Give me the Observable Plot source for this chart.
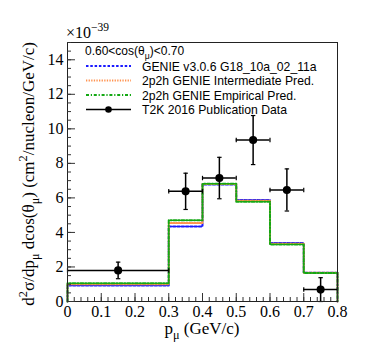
<!DOCTYPE html>
<html><head><meta charset="utf-8">
<script src="https://cdn.jsdelivr.net/npm/d3@7"></script>
<script src="https://cdn.jsdelivr.net/npm/@observablehq/plot@0.6"></script>
<style>body{margin:0;background:#fff}</style>
</head><body><div id="chart"></div>
<script>
// ---- data ----
const binEdges = [0, 0.3, 0.4, 0.5, 0.6, 0.7, 0.8];
const genie = [0.93, 4.35, 6.78, 5.88, 3.39, 1.66];
const intermediate = [1.0, 4.55, 6.8, 5.83, 3.35, 1.66];
const empirical = [1.06, 4.7, 6.82, 5.78, 3.3, 1.65];
const dataX = [0.15, 0.35, 0.45, 0.55, 0.65, 0.75];
const dataXErr = [0.15, 0.05, 0.05, 0.05, 0.05, 0.05];
const dataY = [1.8, 6.38, 7.15, 9.35, 6.46, 0.69];
const dataYErr = [0.48, 1.05, 1.2, 1.42, 1.22, 0.69];
const xTicks = [0, 0.1, 0.2, 0.3, 0.4, 0.5, 0.6, 0.7, 0.8];
const yTicks = [0, 2, 4, 6, 8, 10, 12, 14];
const seriesNames = ["GENIE v3.0.6 G18_10a_02_11a", "2p2h GENIE Intermediate Pred.", "2p2h GENIE Empirical Pred.", "T2K 2016 Publication Data"];

const xMinor = d3.range(0, 0.8001, 0.02);
const yMinor = d3.range(0, 15.001, 0.5);

function histPts(vals) {
  const pts = [{x: binEdges[0], y: 0}];
  vals.forEach((v, i) => pts.push({x: binEdges[i], y: v}));
  pts.push({x: binEdges[binEdges.length - 1], y: vals[vals.length - 1]});
  pts.push({x: binEdges[binEdges.length - 1], y: 0});
  return pts;
}
const pts = dataX.map((x, i) => ({x, xe: dataXErr[i], y: dataY[i], ye: dataYErr[i]}));

const hLine = {draw(ctx, size) { const r = Math.sqrt(size) / 2; ctx.moveTo(-r, 0); ctx.lineTo(r, 0); }};
const vLine = {draw(ctx, size) { const r = Math.sqrt(size) / 2; ctx.moveTo(0, -r); ctx.lineTo(0, r); }};

const styles = [
  {color: "#1a1aff", dash: "2.5,1.8"},
  {color: "#ff9350", dash: "1.3,1.3"},
  {color: "#13a813", dash: "3,1.8,1.2,1.8"}
];

const chart = Plot.plot({
  width: 374, height: 355,
  marginLeft: 67, marginRight: 37, marginTop: 42, marginBottom: 54,
  x: {domain: [0, 0.8]},
  y: {domain: [0, 15]},
  style: {fontFamily: "Liberation Serif", fontSize: "16px", background: "white", color: "black"},
  marks: [
    ...[genie, intermediate, empirical].map((vals, k) =>
      Plot.line(histPts(vals), {x: "x", y: "y", curve: "step-after", stroke: styles[k].color, strokeWidth: 2, strokeDasharray: styles[k].dash})),
    Plot.ruleY(pts, {y: "y", x1: d => d.x - d.xe, x2: d => d.x + d.xe, stroke: "black", strokeWidth: 1.5}),
    Plot.ruleX(pts, {x: "x", y1: d => Math.max(0, d.y - d.ye), y2: d => d.y + d.ye, stroke: "black", strokeWidth: 1.5}),
    Plot.dot(pts, {x: d => d.x - d.xe, y: "y", symbol: vLine, r: 2.5, stroke: "black", strokeWidth: 1.2}),
    Plot.dot(pts, {x: d => d.x + d.xe, y: "y", symbol: vLine, r: 2.5, stroke: "black", strokeWidth: 1.2}),
    Plot.dot(pts, {x: "x", y: d => d.y + d.ye, symbol: hLine, r: 2.5, stroke: "black", strokeWidth: 1.2}),
    Plot.dot(pts, {x: "x", y: d => Math.max(0, d.y - d.ye), symbol: hLine, r: 2.5, stroke: "black", strokeWidth: 1.2}),
    Plot.dot(pts, {x: "x", y: "y", r: 3.3, fill: "black", stroke: "black"}),
    Plot.frame({stroke: "#222", strokeWidth: 1}),
    Plot.axisX({ticks: xMinor, tickSize: 4, dy: -4, tickFormat: () => "", label: null, stroke: "#333"}),
    Plot.axisX({ticks: xTicks, tickSize: 8, dy: -8, tickFormat: () => "", label: null, stroke: "#333"}),
    Plot.axisX({ticks: xTicks, tickSize: 0, tickPadding: 4, tickFormat: d => String(+d.toFixed(1)), label: null}),
    Plot.axisY({ticks: yMinor, tickSize: 4, dx: 4, tickFormat: () => "", label: null, stroke: "#333"}),
    Plot.axisY({ticks: yTicks, tickSize: 8, dx: 8, tickFormat: () => "", label: null, stroke: "#333"}),
    Plot.axisY({ticks: yTicks, tickSize: 0, tickPadding: 4, label: null})
  ]
});
document.getElementById("chart").appendChild(chart);

const svg = d3.select(chart);
function rich(text, parts, size) {
  let shift = 0;
  parts.forEach(([t, kind]) => {
    const target = kind === "sup" ? -0.42 * size : kind === "sub" ? 0.3 * size : 0;
    text.append("tspan").attr("dy", target - shift).attr("font-size", kind === "n" ? size : size * 0.72).text(t);
    shift = target;
  });
}
// y title
rich(svg.append("text").attr("transform", "translate(34,42) rotate(-90)").attr("text-anchor", "end")
  .attr("font-family", "Liberation Serif").attr("fill", "black"),
  [["d", "n"], ["2", "sup"], ["σ/dp", "n"], ["μ", "sub"], [" dcos(θ", "n"], ["μ", "sub"], [") (cm", "n"], ["2", "sup"], ["/nucleon/GeV/c)", "n"]], 17);
// x title
rich(svg.append("text").attr("x", 202).attr("y", 334).attr("text-anchor", "middle")
  .attr("font-family", "Liberation Serif").attr("fill", "black"),
  [["p", "n"], ["μ", "sub"], [" (GeV/c)", "n"]], 17);
// exponent
rich(svg.append("text").attr("x", 66).attr("y", 38).attr("text-anchor", "start")
  .attr("font-family", "Liberation Serif").attr("fill", "black"),
  [["×10", "n"], ["−39", "sup"]], 16);

// legend
const lg = svg.append("g").attr("font-family", "Liberation Sans").attr("fill", "black").attr("text-anchor", "start");
rich(lg.append("text").attr("x", 85).attr("y", 55), [["0.60<cos(θ", "n"], ["μ", "sub"], [")<0.70", "n"]], 12);
const rowY = [66, 80.5, 95, 109.5];
styles.forEach((s, i) => {
  lg.append("line").attr("x1", 86).attr("x2", 131).attr("y1", rowY[i]).attr("y2", rowY[i])
    .attr("stroke", s.color).attr("stroke-width", 2).attr("stroke-dasharray", s.dash);
});
lg.append("line").attr("x1", 86).attr("x2", 131).attr("y1", rowY[3]).attr("y2", rowY[3]).attr("stroke", "black").attr("stroke-width", 1.5);
lg.append("circle").attr("cx", 108.5).attr("cy", rowY[3]).attr("r", 3.3).attr("fill", "black");
seriesNames.forEach((n, i) => {
  lg.append("text").attr("x", 142).attr("y", rowY[i] + 4.5).attr("font-size", 12.2).text(n);
});
</script></body></html>
